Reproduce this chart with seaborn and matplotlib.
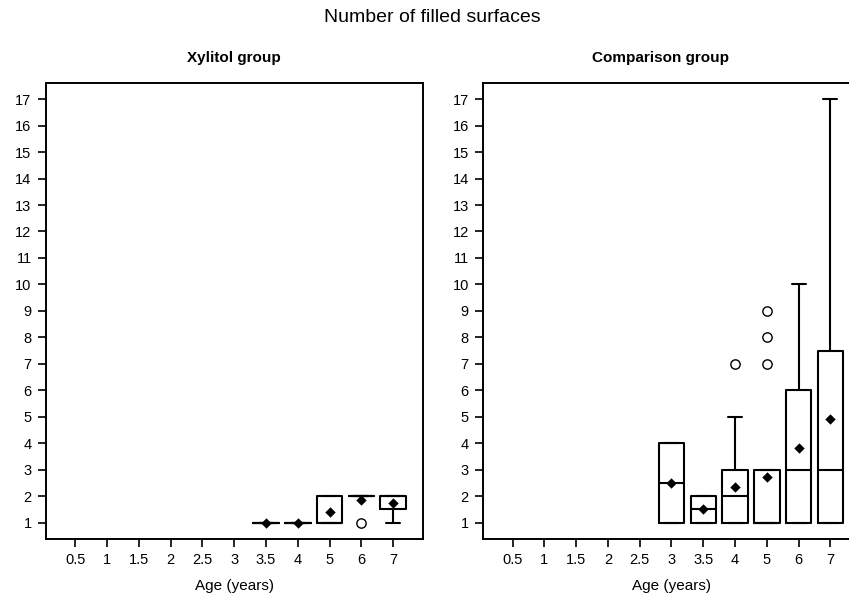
import numpy as np
import pandas as pd
import matplotlib
matplotlib.use("Agg")
import matplotlib.pyplot as plt
import seaborn as sns

# ---- data ----
ages = ["0.5", "1", "1.5", "2", "2.5", "3", "3.5", "4", "5", "6", "7"]

xy_ages = ["3.5", "4", "5", "6", "7"]
xy_q1 = [1, 1, 1, 2, 1.5]
xy_med = [1, 1, 1, 2, 2]
xy_q3 = [1, 1, 2, 2, 2]
xy_wlo = [1, 1, 1, 2, 1]
xy_whi = [1, 1, 2, 2, 2]
xy_mean = [1.0, 1.0, 1.4, 1.85, 1.73]
xy_fliers = [[], [], [], [1], []]

cmp_ages = ["3", "3.5", "4", "5", "6", "7"]
cmp_q1 = [1, 1, 1, 1, 1, 1]
cmp_med = [2.5, 1.5, 2, 1, 3, 3]
cmp_q3 = [4, 2, 3, 3, 6, 7.5]
cmp_wlo = [1, 1, 1, 1, 1, 1]
cmp_whi = [4, 2, 5, 3, 10, 17]
cmp_mean = [2.5, 1.5, 2.33, 2.71, 3.8, 4.9]
cmp_fliers = [[], [], [7], [7, 8, 9], [], []]

yticks = list(range(1, 18))

sns.set_theme(style="ticks")
plt.rcParams['font.family'] = ['Liberation Sans', 'DejaVu Sans']
plt.rcParams['text.color'] = 'black'
plt.rcParams['axes.labelcolor'] = 'black'

fig = plt.figure(figsize=(8.49, 6.05), dpi=100)
W, H = 849, 605
axL = fig.add_axes([45.5 / W, (H - 539) / H, 377.2 / W, (539 - 83.3) / H])
axR = fig.add_axes([482.7 / W, (H - 539) / H, 377.2 / W, (539 - 83.3) / H])

pos = {a: i for i, a in enumerate(ages)}
lw = 1.5


def draw(ax, a_list, q1, med, q3, wlo, whi, mean, fliers):
    stats = []
    for a, b1, m, b3, lo, hi in zip(a_list, q1, med, q3, wlo, whi):
        stats.append(dict(q1=b1, med=m, q3=b3, whislo=lo, whishi=hi, fliers=[]))
    ax.bxp(stats, positions=[pos[a] for a in a_list], widths=0.8,
           showfliers=False, showmeans=False, manage_ticks=False,
           boxprops=dict(color="black", linewidth=lw),
           medianprops=dict(color="black", linewidth=lw),
           whiskerprops=dict(color="black", linewidth=lw),
           capprops=dict(color="black", linewidth=lw), capwidths=0.44)
    mdf = pd.DataFrame({"x": [pos[a] for a in a_list], "y": mean})
    sns.scatterplot(data=mdf, x="x", y="y", marker="D", color="black",
                    s=28, linewidth=0, ax=ax, zorder=5)
    fx, fy = [], []
    for a, fl in zip(a_list, fliers):
        for v in fl:
            fx.append(pos[a]); fy.append(v)
    if fx:
        fdf = pd.DataFrame({"x": fx, "y": fy})
        sns.scatterplot(data=fdf, x="x", y="y", marker="o", facecolor="white",
                        edgecolor="black", s=45, linewidth=1.0, ax=ax, zorder=5)
    ax.set_xlim(-0.94, 10.93)
    ax.set_ylim(0.38, 17.6)
    ax.set_xticks(range(len(ages)))
    ax.set_xticklabels(ages)
    ax.set_yticks(yticks)
    ax.set_yticklabels([str(t) for t in yticks])
    ax.tick_params(axis="both", direction="out", length=6, width=1.2,
                   labelsize=10.5, colors="black", pad=4)
    ax.set_xlabel("Age (years)", fontsize=11, labelpad=9, color="black")
    ax.set_ylabel("")
    for s in ax.spines.values():
        s.set_visible(True)
        s.set_color("black")
        s.set_linewidth(1.4)


draw(axL, xy_ages, xy_q1, xy_med, xy_q3, xy_wlo, xy_whi, xy_mean, xy_fliers)
draw(axR, cmp_ages, cmp_q1, cmp_med, cmp_q3, cmp_wlo, cmp_whi, cmp_mean,
     cmp_fliers)

fig.text(234 / W, 1 - 58 / H, "Xylitol group", ha="center", va="center",
         fontsize=11, fontweight="bold", color="black")
fig.text(660 / W, 1 - 58 / H, "Comparison group", ha="center", va="center",
         fontsize=11, fontweight="bold", color="black")
fig.text(432 / W, 1 - 18 / H, "Number of filled surfaces", ha="center",
         va="center", fontsize=14, color="black")

fig.savefig("out.png", dpi=100)
